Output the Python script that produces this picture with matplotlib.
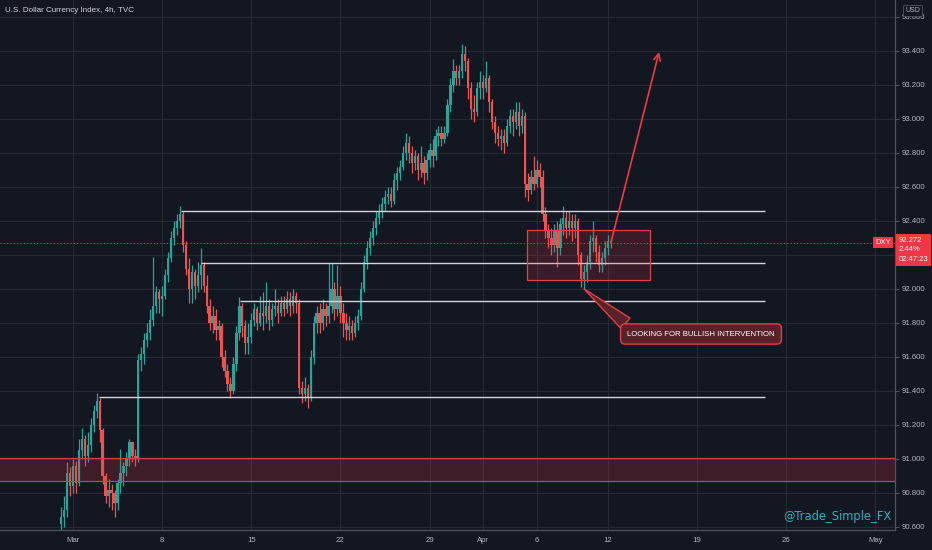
import numpy as np
import matplotlib.pyplot as plt
from matplotlib.patches import Rectangle

# DXY 4h candles (Feb 26 -> Apr 12)
first_open = 90.62
closes = [90.66, 90.70, 90.92, 90.84, 90.96, 90.86, 91.05, 91.12, 91.02, 91.08,
          91.20, 91.28, 91.34, 91.17, 90.90, 90.78, 90.82, 90.80, 90.74, 90.86,
          90.92, 90.96, 91.00, 91.10, 91.02, 91.00, 91.58, 91.62, 91.70, 91.74,
          91.82, 91.90, 91.98, 91.94, 91.96, 92.08, 92.18, 92.30, 92.36, 92.40,
          92.44, 92.26, 92.12, 92.00, 92.10, 92.02, 92.08, 92.14, 92.02, 91.90,
          91.80, 91.84, 91.76, 91.78, 91.60, 91.52, 91.44, 91.40, 91.56, 91.74,
          91.90, 91.78, 91.68, 91.72, 91.82, 91.88, 91.80, 91.86, 91.84, 91.90,
          91.82, 91.88, 91.90, 91.86, 91.92, 91.88, 91.94, 91.90, 91.96, 91.92,
          91.42, 91.38, 91.42, 91.36, 91.60, 91.80, 91.86, 91.80, 91.88, 91.84,
          91.90, 92.00, 91.88, 91.96, 91.86, 91.80, 91.76, 91.78, 91.74, 91.80,
          91.84, 92.00, 92.16, 92.24, 92.30, 92.36, 92.42, 92.46, 92.50, 92.54,
          92.56, 92.52, 92.64, 92.68, 92.72, 92.80, 92.86, 92.80, 92.74, 92.78,
          92.70, 92.74, 92.68, 92.76, 92.82, 92.78, 92.90, 92.92, 92.88, 92.92,
          93.08, 93.20, 93.28, 93.24, 93.28, 93.38, 93.34, 93.18, 93.06, 93.04,
          93.18, 93.22, 93.18, 93.24, 93.10, 92.98, 92.92, 92.88, 92.90, 92.86,
          92.96, 93.02, 92.98, 93.04, 92.96, 93.02, 92.62, 92.58, 92.66, 92.62,
          92.70, 92.66, 92.44, 92.34, 92.30, 92.26, 92.34, 92.24, 92.38, 92.42,
          92.36, 92.40, 92.36, 92.40, 92.20, 92.06, 92.10, 92.16, 92.28, 92.30,
          92.22, 92.14, 92.18, 92.24, 92.28, 92.272]
highs = [90.72, 90.78, 90.98, 90.95, 91.00, 90.99, 91.12, 91.18, 91.14, 91.16,
         91.24, 91.32, 91.39, 91.36, 91.18, 90.92, 90.88, 90.85, 90.82, 90.88,
         91.06, 90.98, 91.04, 91.12, 91.10, 91.06, 91.62, 91.66, 91.74, 91.80,
         91.88, 92.19, 92.02, 92.00, 92.02, 92.12, 92.22, 92.34, 92.40, 92.44,
         92.49, 92.46, 92.28, 92.18, 92.14, 92.12, 92.16, 92.24, 92.16, 92.08,
         91.94, 91.90, 91.88, 91.82, 91.80, 91.64, 91.56, 91.48, 91.60, 91.78,
         91.95, 91.92, 91.82, 91.80, 91.86, 91.92, 91.90, 91.96, 91.98, 92.04,
         91.94, 91.92, 92.00, 91.94, 91.96, 91.96, 91.99, 91.98, 92.00, 91.98,
         91.94, 91.46, 91.48, 91.44, 91.64, 91.84, 91.90, 91.92, 91.94, 91.92,
         92.15, 92.15, 92.04, 92.14, 92.02, 91.92, 91.86, 91.84, 91.82, 91.84,
         91.88, 92.04, 92.20, 92.28, 92.34, 92.40, 92.46, 92.50, 92.54, 92.58,
         92.60, 92.60, 92.68, 92.72, 92.76, 92.84, 92.92, 92.90, 92.84, 92.82,
         92.80, 92.84, 92.78, 92.80, 92.86, 92.88, 92.94, 92.96, 92.96, 92.96,
         93.12, 93.24, 93.35, 93.32, 93.32, 93.44, 93.43, 93.36, 93.22, 93.14,
         93.22, 93.28, 93.26, 93.34, 93.26, 93.12, 93.02, 92.96, 92.94, 92.94,
         93.00, 93.06, 93.06, 93.10, 93.10, 93.06, 93.04, 92.68, 92.70, 92.78,
         92.76, 92.74, 92.70, 92.48, 92.38, 92.36, 92.38, 92.40, 92.42, 92.49,
         92.46, 92.46, 92.44, 92.44, 92.42, 92.22, 92.14, 92.20, 92.32, 92.40,
         92.32, 92.26, 92.22, 92.28, 92.32, 92.30]
lows = [90.57, 90.60, 90.66, 90.78, 90.80, 90.80, 90.84, 91.00, 90.96, 90.98,
        91.04, 91.16, 91.24, 91.10, 90.85, 90.74, 90.72, 90.70, 90.66, 90.70,
        90.80, 90.84, 90.90, 90.96, 90.98, 90.96, 90.98, 91.52, 91.56, 91.66,
        91.70, 91.78, 91.86, 91.86, 91.84, 91.94, 92.04, 92.16, 92.26, 92.32,
        92.36, 92.22, 92.08, 91.92, 91.92, 91.94, 91.98, 92.00, 91.98, 91.86,
        91.76, 91.74, 91.70, 91.70, 91.54, 91.48, 91.40, 91.36, 91.38, 91.52,
        91.70, 91.72, 91.62, 91.62, 91.68, 91.78, 91.76, 91.78, 91.76, 91.80,
        91.76, 91.78, 91.84, 91.80, 91.84, 91.84, 91.86, 91.84, 91.86, 91.86,
        91.38, 91.33, 91.34, 91.30, 91.34, 91.56, 91.74, 91.74, 91.76, 91.78,
        91.80, 91.86, 91.82, 91.84, 91.80, 91.72, 91.70, 91.70, 91.70, 91.72,
        91.76, 91.82, 91.98, 92.12, 92.20, 92.26, 92.32, 92.38, 92.42, 92.46,
        92.50, 92.48, 92.50, 92.58, 92.64, 92.70, 92.76, 92.74, 92.68, 92.70,
        92.64, 92.66, 92.62, 92.64, 92.72, 92.72, 92.76, 92.84, 92.84, 92.86,
        92.90, 93.04, 93.16, 93.20, 93.20, 93.24, 93.28, 93.12, 93.00, 92.98,
        93.02, 93.12, 93.12, 93.16, 93.04, 92.94, 92.86, 92.84, 92.82, 92.80,
        92.84, 92.92, 92.90, 92.94, 92.90, 92.92, 92.54, 92.52, 92.56, 92.58,
        92.60, 92.60, 92.40, 92.30, 92.24, 92.20, 92.22, 92.13, 92.20, 92.32,
        92.30, 92.32, 92.28, 92.30, 92.14, 92.01, 92.00, 92.04, 92.12, 92.22,
        92.16, 92.10, 92.10, 92.14, 92.20, 92.24]

bars_per_day = 6
bars_before_march = 4

# x axis is in trading days counted from Mar 1
tick_days = [0, 5, 10, 15, 20, 23, 26, 30, 35, 40, 45]
tick_labels = ['Mar', '8', '15', '22', '29', 'Apr', '6', '12', '19', '26', 'May']

# drawn levels (price, first day), all end on the same day
level_prices = [92.459, 92.153, 91.929, 91.365]
level_starts = [6.06, 7.18, 9.37, 1.46]
level_end = 38.8

zone_low, zone_high = 90.871, 91.006
box_days = (25.46, 32.36)
box_prices = (92.053, 92.347)
arrow_tip = (32.87, 93.394)
note_pos = (35.22, 91.735)
change_pct = '2.44%'
countdown = '02:47:23'

bg = '#131722'
grid_c = '#262a35'
up_c, down_c = '#26a69a', '#ef5350'
red = '#f23645'
txt_c = '#b2b5be'

closes = np.array(closes)
highs = np.array(highs)
lows = np.array(lows)
opens = np.r_[first_open, closes[:-1]]
highs = np.maximum(highs, np.maximum(opens, closes))
lows = np.minimum(lows, np.minimum(opens, closes))
x = (np.arange(len(closes)) - bars_before_march) / bars_per_day
colors = np.where(closes >= opens, up_c, down_c)
last = closes[-1]

plt.rcParams['font.family'] = ['Liberation Sans', 'DejaVu Sans']

fig = plt.figure(figsize=(9.32, 5.5), dpi=100)
fig.patch.set_facecolor(bg)
ax = fig.add_axes([0, 20 / 550, 895 / 932, 530 / 550])
ax.set_facecolor(bg)

ax.set_xlim(-4.09, 46.1)
ax.set_ylim(90.582, 93.70)

yt = np.arange(90.6, 93.61, 0.2)
ax.set_yticks(yt)
# the label under the last-price tag is hidden, as on the scale
ax.set_yticklabels(['' if abs(v - last) < 0.1 else f'{v:.3f}' for v in yt])
ax.yaxis.tick_right()
ax.set_xticks(tick_days)
ax.set_xticklabels(tick_labels)
ax.tick_params(axis='y', colors='#50535e', labelcolor=txt_c, labelsize=5.6,
               length=3, width=0.8, pad=2)
ax.tick_params(axis='x', labelcolor=txt_c, labelsize=5.6, length=0, pad=5)
ax.grid(True, color=grid_c, lw=0.8)
ax.set_axisbelow(True)
for s in ['left', 'top']:
    ax.spines[s].set_visible(False)
for s in ['right', 'bottom']:
    ax.spines[s].set_color('#50535e')
    ax.spines[s].set_linewidth(0.9)

# candles
ax.vlines(x, lows, highs, colors=colors, lw=0.9, zorder=3)
ax.bar(x, np.maximum(np.abs(closes - opens), 0.004), bottom=np.minimum(opens, closes),
       width=0.78 / bars_per_day, color=colors, lw=0, zorder=3)

# demand zone at the bottom (drawn over the candles)
ax.axhspan(zone_low, zone_high, fc=(0.93, 0.22, 0.27, 0.2), ec='none', zorder=4)
ax.axhline(zone_low, color='#c9434c', lw=0.9, zorder=4)
ax.axhline(zone_high, color='#c9434c', lw=0.9, zorder=4)

# support / resistance lines
ax.hlines(level_prices, level_starts, level_end, colors='#d1d4dc', lw=1, zorder=4)

# consolidation box
ax.add_patch(Rectangle((box_days[0], box_prices[0]), box_days[1] - box_days[0],
                       box_prices[1] - box_prices[0], fc=(0.93, 0.22, 0.27, 0.18),
                       ec='#d9434c', lw=0.9, zorder=4))

# last price line
ax.axhline(last, color=red, lw=0.8, ls=(0, (1, 2)), zorder=2)

# projection arrow
ax.annotate('', xy=arrow_tip, xytext=(x[-1], last),
            arrowprops=dict(arrowstyle='->', color=red, lw=1.2, mutation_scale=12,
                            shrinkA=0, shrinkB=0), zorder=5)

# callout at the swing low
low_i = len(lows) - 15 + np.argmin(lows[-15:])
ax.annotate('LOOKING FOR BULLISH INTERVENTION', xy=(x[low_i], lows[low_i]),
            xytext=note_pos, ha='center', va='center', color='white', fontsize=5.6,
            bbox=dict(boxstyle='round,pad=0.85,rounding_size=0.6', fc='#5a2128', ec='#e0404a', lw=1),
            arrowprops=dict(arrowstyle='wedge,tail_width=1.0', mutation_scale=10,
                            fc='#5a2128', ec='#e0404a', lw=1,
                            shrinkA=0, shrinkB=0, relpos=(0.05, 0.95)), zorder=6)

# price tags on the scale
yx = ax.get_yaxis_transform()
ax.annotate('DXY', xy=(1, last), xycoords=yx, xytext=(-3, 0), textcoords='offset points',
            ha='right', va='center', color='white', fontsize=5.5,
            bbox=dict(boxstyle='square,pad=0.25', fc=red, ec='none'),
            annotation_clip=False, zorder=7)
ax.annotate(f'{last:.3f}\n{change_pct}\n{countdown}', xy=(1, last), xycoords=yx,
            xytext=(2.5, 4.2), textcoords='offset points', ha='left', va='top',
            color='white', fontsize=5.5, linespacing=1.5,
            bbox=dict(boxstyle='square,pad=0.35', fc=red, ec='none'),
            annotation_clip=False, zorder=7)

fig.text(5 / 932, 1 - 11 / 550, 'U.S. Dollar Currency Index, 4h, TVC', color='#d1d4dc',
         fontsize=5.8, va='center', ha='left')
fig.text(913 / 932, 1 - 11 / 550, 'USD', color=txt_c, fontsize=5, va='center', ha='center',
         bbox=dict(boxstyle='round,pad=0.3,rounding_size=0.2', fc=bg, ec='#50535e', lw=0.6),
         zorder=8)
ax.text(0.996, 0.013, '@Trade_Simple_FX', transform=ax.transAxes, color='#22b3c6',
        fontsize=8.3, ha='right', va='bottom', family='DejaVu Sans', zorder=8)

fig.savefig('out.png', dpi=100, facecolor=bg)
